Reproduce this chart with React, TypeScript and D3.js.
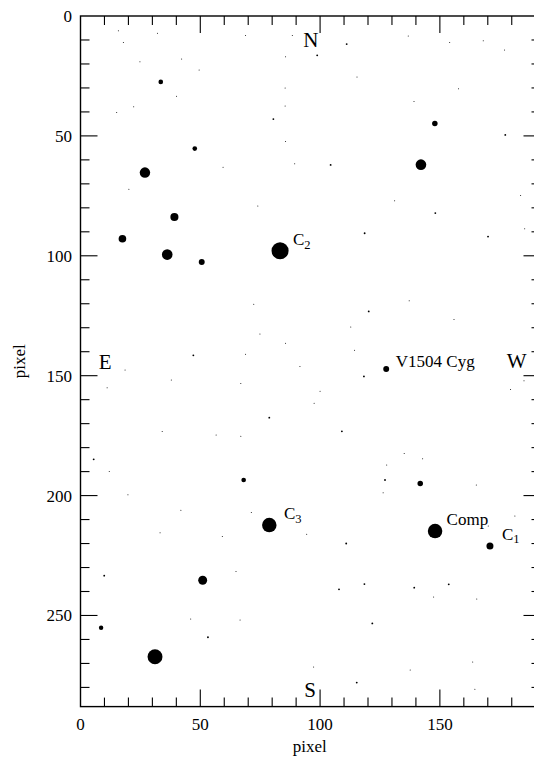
import React from 'react';
import * as d3 from 'd3';

// Field stars: image pixel coordinates and an instrumental magnitude
const starX = [
  33.5, 47.7, 26.9, 39.2, 17.5, 36.2, 50.6, 147.9, 142.1, 83.3, 127.6, 68.1, 141.8, 78.8, 148.0, 170.9, 51.0, 8.6, 31.1,
  15.8, 17.9, 32.1, 24.8, 42.2, 49.5, 68.9, 40.1, 22.2, 15.1, 59.5, 20.2, 74.0,
  88.4, 85.6, 98.8, 111.1, 136.8, 154.1, 168.1, 177.0, 115.4, 85.4, 157.8, 139.2, 85.4, 80.5, 177.3, 85.6, 89.4, 104.4, 183.7, 131.1, 148.1, 118.6, 170.1, 185.4,
  72.3, 74.9, 47.1, 68.9, 18.6, 37.9, 66.9, 11.1, 78.8, 34.1, 56.6, 66.9, 5.5, 12.0, 19.8,
  137.2, 120.3, 155.9, 112.8, 85.6, 114.4, 91.6, 118.3, 179.5, 185.1, 100.0, 97.5, 109.1, 135.1, 142.8, 127.8, 127.1, 165.2, 126.3,
  41.9, 71.3, 33.2, 59.2, 9.9, 64.9, 46.0, 66.6, 53.2,
  94.4, 110.9, 181.3, 170.2, 107.9, 118.5, 139.3, 153.7, 147.4, 165.4, 121.8, 97.3, 137.6, 163.7, 115.3, 164.6,
];
const starY = [
  27.5, 55.3, 65.3, 83.8, 92.9, 99.5, 102.6, 44.8, 62.0, 97.9, 147.2, 193.5, 195.0, 212.3, 214.8, 221.0, 235.3, 255.1, 267.2,
  6.1, 11.1, 7.2, 19.1, 17.9, 22.5, 8.1, 33.5, 37.8, 40.2, 63.1, 72.3, 79.2,
  8.1, 17.0, 16.4, 11.7, 8.3, 11.1, 10.3, 14.2, 25.4, 30.0, 30.3, 35.7, 37.5, 43.0, 49.6, 52.3, 61.6, 62.1, 74.9, 77.0, 82.2, 90.6, 92.0, 88.7,
  120.2, 132.6, 141.5, 141.1, 147.6, 151.8, 153.3, 155.0, 167.5, 173.3, 174.7, 175.3, 184.9, 190.0, 199.7,
  118.7, 123.2, 126.6, 129.7, 136.5, 139.4, 146.2, 150.3, 155.8, 152.1, 156.5, 161.5, 173.2, 182.5, 184.6, 187.2, 193.5, 195.6, 198.8,
  206.1, 207.1, 215.5, 217.1, 233.4, 231.7, 251.5, 251.9, 259.1,
  216.1, 220.0, 208.5, 212.7, 239.1, 236.9, 238.4, 237.0, 242.3, 243.1, 253.3, 271.5, 272.7, 269.4, 278.0, 280.8,
];
const starMag = [
  15.3, 15.3, 12.6, 13.7, 13.9, 12.5, 14.7, 14.9, 12.5, 9.5, 14.7, 15.3, 14.9, 10.7, 10.7, 14.2, 13.3, 15.4, 10.5,
  17, 17, 17, 17, 17, 17, 17, 17, 17, 17, 17, 17, 17,
  17, 17, 16.6, 16.6, 17, 17, 17, 17, 17, 17, 17, 17, 17, 16.6, 16.6, 17, 17, 16.6, 17, 17, 16.6, 16.6, 16.6, 17,
  17, 17, 16.6, 17, 17, 17, 17, 17, 16.6, 17, 17, 17, 16.6, 17, 17,
  17, 16.6, 17, 17, 17, 17, 17, 16.6, 17, 17, 17, 17, 16.6, 17, 17, 17, 16.6, 17, 17,
  17, 17, 17, 17, 16.6, 17, 17, 17, 16.6,
  17, 16.6, 17, 17, 16.6, 16.6, 16.6, 16.6, 17, 17, 16.6, 17, 17, 17, 16.6, 17,
];

// Star labels (name, subscript, anchor in pixel coords)
const labelText = ['C', 'C', 'Comp', 'C', 'V1504 Cyg'];
const labelSub = ['2', '3', '', '1', ''];
const labelX = [88.7, 84.9, 152.8, 175.9, 131.6];
const labelY = [95.5, 209.8, 212.3, 218.5, 146.4];

// Compass directions
const dirText = ['N', 'S', 'E', 'W'];
const dirX = [96.1, 95.8, 10.3, 182.0];
const dirY = [12.9, 284.0, 147.2, 146.8];

const xTickLabels = [0, 50, 100, 150];
const yTickLabels = [0, 50, 100, 150, 200, 250];
const xLimit = [0, 192];
const yLimit = [0, 288];

const W = 534;
const H = 762;
const FONT = '"Liberation Serif", "Times New Roman", serif';

export default function App() {
  const x = d3.scaleLinear().domain(xLimit).range([80.5, 540.5]);
  const y = d3.scaleLinear().domain(yLimit).range([16, 706.6]);
  const r = d3.scaleLinear().domain([17, 10]).range([0.5, 8]);

  const xMinor = d3.range(10, xLimit[1], 10);
  const yMinor = d3.range(10, yLimit[1], 10);
  const isMajor = (v: number) => v % 50 === 0;
  const [x0, x1] = x.range();
  const [y0, y1] = y.range();

  return (
    <svg width={W} height={H} style={{ position: 'absolute', left: 0, top: 0, background: '#fff' }}
      fontFamily={FONT}>
      <rect width={W} height={H} fill="#fff" />

      {/* stars */}
      {starX.map((sx, i) => (
        <circle key={'s' + i} cx={x(sx)} cy={y(starY[i])} r={r(starMag[i])} fill="#000" />
      ))}

      {/* frame */}
      <rect x={x0} y={y0} width={x1 - x0} height={y1 - y0} fill="none" stroke="#000" strokeWidth={1.4} />

      {/* x ticks, top and bottom, pointing inward */}
      {xMinor.map(v => {
        const len = isMajor(v) ? 17 : 9;
        return (
          <g key={'xt' + v} stroke="#000" strokeWidth={1.1}>
            <line x1={x(v)} x2={x(v)} y1={y1} y2={y1 - len} />
            <line x1={x(v)} x2={x(v)} y1={y0} y2={y0 + len} />
          </g>
        );
      })}
      {/* y ticks, left and right */}
      {yMinor.map(v => {
        const len = isMajor(v) ? 17 : 9;
        return (
          <g key={'yt' + v} stroke="#000" strokeWidth={1.1}>
            <line x1={x0} x2={x0 + len} y1={y(v)} y2={y(v)} />
            <line x1={x1} x2={x1 - len} y1={y(v)} y2={y(v)} />
          </g>
        );
      })}

      {/* tick labels */}
      {xTickLabels.map(v => (
        <text key={'xl' + v} x={x(v)} y={730} textAnchor="middle" fontSize={17} fill="#000">{v}</text>
      ))}
      {yTickLabels.map(v => (
        <text key={'yl' + v} x={72} y={y(v)} dy="0.35em" textAnchor="end" fontSize={17} fill="#000">{v}</text>
      ))}

      {/* axis titles */}
      <text x={(x0 + 533) / 2 + 3} y={752} textAnchor="middle" fontSize={17} fill="#000">pixel</text>
      <text transform={`translate(25,${(y0 + y1) / 2}) rotate(-90)`} textAnchor="middle" fontSize={17} fill="#000">pixel</text>

      {/* star labels */}
      {labelText.map((t, i) => (
        <text key={'lb' + i} x={x(labelX[i])} y={y(labelY[i])} fontSize={17} fill="#000">
          {t}
          {labelSub[i] && <tspan fontSize={12.5} dy={3.5}>{labelSub[i]}</tspan>}
        </text>
      ))}

      {/* compass */}
      {dirText.map((t, i) => (
        <text key={'d' + i} x={x(dirX[i])} y={y(dirY[i])} textAnchor="middle" fontSize={21} fill="#000">{t}</text>
      ))}
    </svg>
  );
}
